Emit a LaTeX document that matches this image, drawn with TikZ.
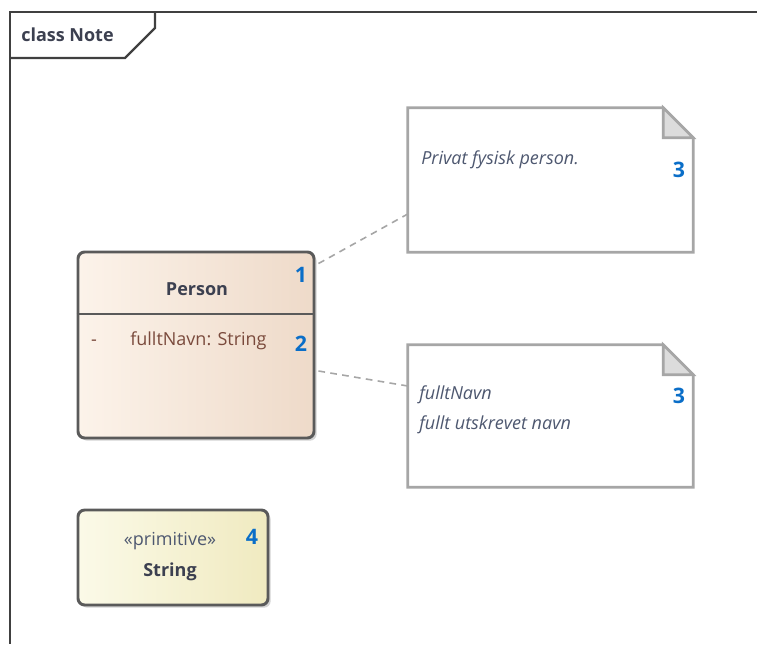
\documentclass[tikz,border=0pt]{standalone}
\usepackage{fontspec}
\setmainfont{Open Sans}
\usetikzlibrary{calc,shadows}

\definecolor{framegray}{HTML}{404040}
\definecolor{boxgray}{HTML}{5A5A5A}
\definecolor{notegray}{HTML}{A6A6A6}
\definecolor{foldgray}{HTML}{DCDCDC}
\definecolor{numblue}{HTML}{0A6EC8}
\definecolor{namegray}{HTML}{3C4050}
\definecolor{attrbrown}{HTML}{7A4A3C}
\definecolor{textblue}{HTML}{4E5870}
\definecolor{personL}{HTML}{FCF3EA}
\definecolor{personR}{HTML}{EEDAC9}
\definecolor{stringL}{HTML}{FBFAE8}
\definecolor{stringR}{HTML}{F0EAC0}

\begin{document}
\begin{tikzpicture}[x=0.75pt,y=-0.75pt,
    classbox/.style={draw=boxgray,line width=2.2pt,rounded corners=5pt,
      drop shadow={shadow xshift=2pt,shadow yshift=-2pt,opacity=.35}},
    notebox/.style={minimum width=213.75pt,inner sep=0pt},
    noteline/.style={draw=notegray,line width=2pt,fill=white},
    txt/.style={font=\fontsize{13.5}{14}\selectfont,inner sep=0pt},
    num/.style={font=\fontsize{16}{16}\selectfont\bfseries,text=numblue},
    conn/.style={draw=notegray,line width=1.2pt,dash pattern=on 5pt off 4pt}]
  \useasboundingbox (0,0) rectangle (757,644);
  % frame
  \draw[framegray,line width=1.8pt] (757,12) -- (10,12) -- (10,644);
  \draw[framegray,line width=1.8pt] (10,58) -- (125,58) -- (155,28) -- (155,12);
  \node[txt,anchor=west,font=\fontsize{13.5}{14}\selectfont\bfseries,text=namegray] (title) at (21,35) {class Note};

  % classes
  \node[classbox,left color=personL,right color=personR,minimum width=177pt,minimum height=139.5pt] (person) at (196,345) {};
  \draw[boxgray,line width=2.2pt] (person.west |- 0,314) -- (person.east |- 0,314);
  \node[txt,font=\fontsize{13.5}{14}\selectfont\bfseries,text=namegray] (personname) at (197,289) {Person};
  \node[num] (n1) at (301,275) {1};
  \node[txt,anchor=west,text=attrbrown] (attr) at (130,341) {fulltNavn: String};
  \node[txt,anchor=base,text=attrbrown] (vis) at (attr.base -| 94,0) {-};
  \node[num] (n2) at (301,344) {2};

  \node[classbox,left color=stringL,right color=stringR,minimum width=142.5pt,minimum height=71.25pt] (string) at (173,557.5) {};
  \node[txt,text=textblue] (stereo) at (170,541) {«primitive»};
  \node[txt,font=\fontsize{13.5}{14}\selectfont\bfseries,text=namegray] (stringname) at (170,572) {String};
  \node[num] (n4) at (252,537) {4};

  % notes
  \node[notebox,minimum height=108pt] (noteperson) at (550.5,180) {};
  \node[notebox,minimum height=106.5pt] (notenavn) at (550.5,416) {};
  \foreach \n in {noteperson,notenavn}{
    \draw[noteline] (\n.north west) -- ([xshift=-22.5pt]\n.north east) -- ([yshift=-22.5pt]\n.north east)
      -- (\n.south east) -- (\n.south west) -- cycle;
    \draw[noteline,fill=foldgray,line join=miter] ([xshift=-22.5pt]\n.north east) -- ([xshift=-22.5pt,yshift=-22.5pt]\n.north east)
      -- ([yshift=-22.5pt]\n.north east) -- cycle;
  }
  \node[txt,anchor=west,font=\fontsize{13.5}{14}\selectfont\itshape,text=textblue] (doc1) at (421,160) {Privat fysisk person.};
  \node[num] (n3a) at (679,170) {3};
  \node[txt,anchor=west,font=\fontsize{13.5}{14}\selectfont\itshape,text=textblue] (doc2a) at (419,395) {fulltNavn};
  \node[txt,anchor=west,font=\fontsize{13.5}{14}\selectfont\itshape,text=textblue] (doc2b) at (419,425) {fullt utskrevet navn};
  \node[num] (n3b) at (679,396) {3};

  % note links
  \draw[conn] ($(person.north east)+(3,13)$) -- ($(noteperson.west)+(0,34)$);
  \draw[conn] ($(person.east)+(3,26)$) -- ($(notenavn.west)+(0,-30)$);
\end{tikzpicture}
\end{document}
